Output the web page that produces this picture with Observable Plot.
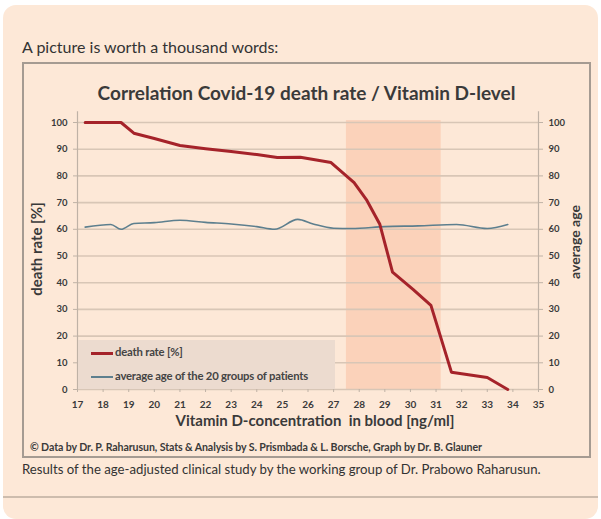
<!DOCTYPE html>
<html>
<head>
<meta charset="utf-8">
<script src="https://cdn.jsdelivr.net/npm/d3@7"></script>
<script src="https://cdn.jsdelivr.net/npm/@observablehq/plot@0.6"></script>
<style>
  html, body { margin: 0; padding: 0; background: #ffffff; width: 601px; height: 519px; overflow: hidden; font-family: Lato, "Open Sans", sans-serif; }
  #card { position: absolute; left: 3px; top: 5px; width: 595px; height: 514px; background: #fde8d7; border-radius: 13px; }
  #sep { position: absolute; left: 3px; top: 496px; width: 595px; height: 2px; background: #cdbcad; }
  #box { position: absolute; left: 22px; top: 62px; width: 565px; height: 392px; border: 2px solid #a59b92; box-sizing: content-box; }
  .t { position: absolute; white-space: nowrap; color: #333; }
  #plot { position: absolute; left: 0; top: 0; }
  #legend { position: absolute; left: 78px; top: 340px; width: 257px; height: 49px; background: #ecdbcf; }
  .lg { position: absolute; left: 13px; font-size: 11.3px; font-weight: bold; color: #444; letter-spacing: -0.2px; }
  .sw { display: inline-block; width: 22px; vertical-align: middle; margin-right: 2px; }
</style>
</head>
<body>
<div id="card"></div>
<div id="sep"></div>
<div id="box"></div>
<div id="plot"></div>
<div id="legend">
  <div class="lg" style="top:5px"><span class="sw" style="height:3px;background:#a5232a"></span>death rate [%]</div>
  <div class="lg" style="top:29px"><span class="sw" style="height:1.5px;background:#5d7f8e"></span>average age of the 20 groups of patients</div>
</div>
<div class="t" style="left:22px;top:37px;font-size:16px;">A picture is worth a thousand words:</div>
<div class="t" style="left:0;width:613px;text-align:center;top:81px;font-size:19px;font-weight:bold;color:#3a3a3a;">Correlation Covid-19 death rate / Vitamin D-level</div>
<div class="t" style="left:0;width:630px;text-align:center;top:411px;font-size:15px;font-weight:bold;color:#3a3a3a;">Vitamin D-concentration&nbsp; in blood [ng/ml]</div>
<div class="t" style="left:30px;top:441px;font-size:10.6px;font-weight:bold;color:#3a3a3a;letter-spacing:-0.1px;">© Data by Dr. P. Raharusun, Stats &amp; Analysis by S. Prismbada &amp; L. Borsche, Graph by Dr. B. Glauner</div>
<div class="t" style="left:22px;top:461px;font-size:13.2px;color:#333;">Results of the age-adjusted clinical study by the working group of Dr. Prabowo Raharusun.</div>
<div class="t" style="left:36px;top:249px;font-size:15px;font-weight:bold;color:#3a3a3a;transform:translate(-50%,-50%) rotate(-90deg);">death rate [%]</div>
<div class="t" style="left:574px;top:242px;font-size:14px;font-weight:bold;color:#3a3a3a;transform:translate(-50%,-50%) rotate(-90deg);">average age</div>
<script>
// Vitamin D concentration (ng/ml) vs death rate (%)
const deathX = [17.3, 18.7, 19.2, 20.0, 21.0, 22.0, 23.0, 24.0, 24.8, 25.7, 26.9, 27.8, 28.3, 28.8, 29.3, 30.1, 30.8, 31.6, 33.0, 33.8];
const deathY = [100, 100, 96, 94, 91.4, 90.2, 89.1, 88, 86.9, 87, 85, 77.5, 70.8, 62, 44, 37.5, 31.5, 6.5, 4.5, 0];
// Vitamin D concentration vs average age
const ageX = [17.3, 18.3, 18.7, 19.2, 20.0, 21.0, 22.0, 23.0, 24.0, 24.7, 25.6, 26.2, 27.0, 27.7, 29.0, 30.3, 31.8, 33.0, 33.8];
const ageY = [60.8, 61.8, 60.0, 62.2, 62.5, 63.4, 62.6, 62.0, 61.0, 60.0, 63.7, 62.0, 60.4, 60.3, 61.0, 61.3, 61.8, 60.3, 61.8];
// highlighted range
const bandRange = [27.5, 31.2];
const xTicks = d3.range(17, 36, 1);
const yTicks = d3.range(0, 101, 10);

const death = deathX.map((x, i) => ({x, y: deathY[i]}));
const age = ageX.map((x, i) => ({x, y: ageY[i]}));

const chart = Plot.plot({
  width: 601,
  height: 519,
  marginLeft: 77,
  marginRight: 63,
  marginTop: 122,
  marginBottom: 130,
  style: {background: "transparent", fontFamily: "Lato, sans-serif", color: "#3a3a3a"},
  x: {domain: [17, 35]},
  y: {domain: [0, 100]},
  marks: [
    Plot.rectY([{x1: bandRange[0], x2: bandRange[1]}], {x1: "x1", x2: "x2", y1: 0, y2: 100.7, fill: "#fbd2ba"}),
    Plot.ruleY(yTicks, {stroke: "#d8c6b6", strokeWidth: 1.6}),
    Plot.ruleX([17, 35], {y1: 0, y2: 104, stroke: "#bfb2a6", strokeWidth: 1.2}),
    Plot.axisY({anchor: "left", ticks: yTicks, tickSize: 4, tickPadding: 6, label: null, fontSize: 9.5, fontWeight: "bold", stroke: "#bfb2a6"}),
    Plot.axisY({anchor: "right", ticks: yTicks, tickSize: 4, tickPadding: 6, label: null, fontSize: 9.5, fontWeight: "bold", stroke: "#bfb2a6"}),
    Plot.axisX({ticks: xTicks, tickSize: 3, tickPadding: 8, label: null, fontSize: 10, fontWeight: "bold", stroke: "#bfb2a6"}),
    Plot.line(age, {x: "x", y: "y", stroke: "#5d7f8e", strokeWidth: 1.6, curve: "monotone-x"}),
    Plot.line(death, {x: "x", y: "y", stroke: "#a5232a", strokeWidth: 3})
  ]
});
document.getElementById("plot").appendChild(chart);
</script>
</body>
</html>
